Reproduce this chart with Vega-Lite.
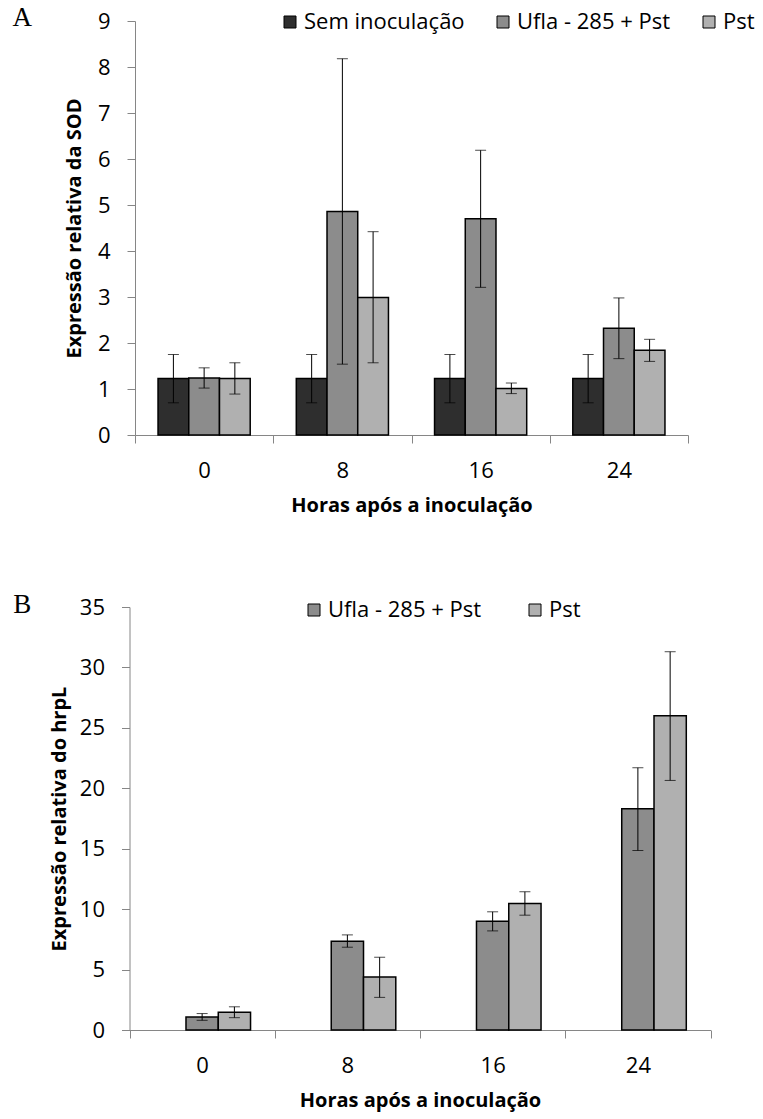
{
  "$schema": "https://vega.github.io/schema/vega-lite/v6.json",
  "padding": {"left": 12, "top": 4, "right": 5, "bottom": 5},
  "background": "white",
  "config": {
    "view": {"stroke": null},
    "font": "Open Sans",
    "axis": {
      "domainColor": "#868686", "tickColor": "#868686", "tickSize": 8, "grid": false,
      "labelFont": "Open Sans", "labelFontSize": 22, "labelColor": "black", "labelPadding": 17,
      "titleFont": "Open Sans", "titleFontSize": 20, "titleFontWeight": "bold", "titleColor": "black"
    },
    "legend": {
      "labelFont": "Open Sans", "labelFontSize": 22, "labelColor": "black", "labelLimit": 400,
      "symbolType": "square", "symbolSize": 144, "symbolStrokeColor": "black", "symbolStrokeWidth": 1, "labelOffset": 3
    },
    "title": {"font": "Liberation Serif", "fontSize": 27, "fontWeight": "normal", "color": "black"}
  },
  "datasets": {
    "sod": [
      {"hora": "0", "serie": "Sem inoculação", "valor": 1.23, "lo": 0.70, "hi": 1.75},
      {"hora": "0", "serie": "Ufla - 285 + Pst", "valor": 1.24, "lo": 1.02, "hi": 1.46},
      {"hora": "0", "serie": "Pst", "valor": 1.23, "lo": 0.89, "hi": 1.57},
      {"hora": "8", "serie": "Sem inoculação", "valor": 1.23, "lo": 0.70, "hi": 1.75},
      {"hora": "8", "serie": "Ufla - 285 + Pst", "valor": 4.86, "lo": 1.54, "hi": 8.18},
      {"hora": "8", "serie": "Pst", "valor": 2.99, "lo": 1.57, "hi": 4.42},
      {"hora": "16", "serie": "Sem inoculação", "valor": 1.23, "lo": 0.70, "hi": 1.75},
      {"hora": "16", "serie": "Ufla - 285 + Pst", "valor": 4.70, "lo": 3.21, "hi": 6.19},
      {"hora": "16", "serie": "Pst", "valor": 1.01, "lo": 0.90, "hi": 1.13},
      {"hora": "24", "serie": "Sem inoculação", "valor": 1.23, "lo": 0.70, "hi": 1.75},
      {"hora": "24", "serie": "Ufla - 285 + Pst", "valor": 2.32, "lo": 1.66, "hi": 2.98},
      {"hora": "24", "serie": "Pst", "valor": 1.84, "lo": 1.60, "hi": 2.08}
    ],
    "hrpl": [
      {"hora": "0", "serie": "Ufla - 285 + Pst", "valor": 1.08, "lo": 0.80, "hi": 1.36},
      {"hora": "0", "serie": "Pst", "valor": 1.47, "lo": 1.02, "hi": 1.92},
      {"hora": "8", "serie": "Ufla - 285 + Pst", "valor": 7.35, "lo": 6.85, "hi": 7.87},
      {"hora": "8", "serie": "Pst", "valor": 4.39, "lo": 2.70, "hi": 6.02},
      {"hora": "16", "serie": "Ufla - 285 + Pst", "valor": 9.0, "lo": 8.2, "hi": 9.78},
      {"hora": "16", "serie": "Pst", "valor": 10.47, "lo": 9.5, "hi": 11.44},
      {"hora": "24", "serie": "Ufla - 285 + Pst", "valor": 18.31, "lo": 14.85, "hi": 21.7},
      {"hora": "24", "serie": "Pst", "valor": 26.0, "lo": 20.65, "hi": 31.3}
    ]
  },
  "concat": [
    {
      "width": 553, "height": 414,
      "title": {"text": "A", "orient": "left", "anchor": "end", "frame": "group", "angle": 0, "align": "right", "baseline": "middle", "offset": 13, "dy": -3},
      "data": {"name": "sod"},
      "encoding": {
        "x": {"field": "hora", "type": "nominal", "sort": ["0", "8", "16", "24"],
              "scale": {"paddingInner": 0, "paddingOuter": 0},
              "axis": {"title": "Horas após a inoculação", "labelAngle": 0, "tickBand": "extent", "titlePadding": 14}},
        "xOffset": {"field": "serie", "type": "nominal", "sort": ["Sem inoculação", "Ufla - 285 + Pst", "Pst"],
                    "scale": {"domain": ["Sem inoculação", "Ufla - 285 + Pst", "Pst"], "paddingInner": 0, "paddingOuter": 0.75}}
      },
      "layer": [
        {
          "mark": {"type": "bar", "stroke": "black", "strokeWidth": 1.5},
          "encoding": {
            "y": {"field": "valor", "type": "quantitative", "title": "Expressão relativa da SOD",
                  "scale": {"domain": [0, 9], "nice": false},
                  "axis": {"values": [0, 1, 2, 3, 4, 5, 6, 7, 8, 9], "titlePadding": 13}},
            "fill": {"field": "serie", "type": "nominal",
                     "scale": {"domain": ["Sem inoculação", "Ufla - 285 + Pst", "Pst"], "range": ["#2e2e2e", "#8c8c8c", "#b0b0b0"]},
                     "legend": {"title": null, "orient": "none", "direction": "horizontal", "legendX": 144, "legendY": -10, "columnPadding": 27}}
          }
        },
        {
          "mark": {"type": "rule", "color": "black", "strokeWidth": 1},
          "encoding": {
            "y": {"field": "lo", "type": "quantitative", "title": "Expressão relativa da SOD"},
            "y2": {"field": "hi"}
          }
        },
        {
          "mark": {"type": "tick", "color": "black", "thickness": 1, "size": 11},
          "encoding": {"y": {"field": "hi", "type": "quantitative", "title": "Expressão relativa da SOD"}}
        },
        {
          "mark": {"type": "tick", "color": "black", "thickness": 1, "size": 11},
          "encoding": {"y": {"field": "lo", "type": "quantitative", "title": "Expressão relativa da SOD"}}
        }
      ]
    },
    {
      "width": 576, "height": 423,
      "title": {"text": "B", "orient": "left", "anchor": "end", "frame": "group", "angle": 0, "align": "right", "baseline": "middle", "offset": 0, "dy": -2},
      "data": {"name": "hrpl"},
      "encoding": {
        "x": {"field": "hora", "type": "nominal", "sort": ["0", "8", "16", "24"],
              "scale": {"paddingInner": 0, "paddingOuter": 0, "range": [-5.5, 575.5]},
              "axis": {"title": "Horas após a inoculação", "labelAngle": 0, "tickBand": "extent", "titlePadding": 14}},
        "xOffset": {"field": "serie", "type": "nominal", "sort": ["Sem inoculação", "Ufla - 285 + Pst", "Pst"],
                    "scale": {"domain": ["Sem inoculação", "Ufla - 285 + Pst", "Pst"], "paddingInner": 0, "paddingOuter": 0.75}}
      },
      "layer": [
        {
          "mark": {"type": "bar", "stroke": "black", "strokeWidth": 1.5},
          "encoding": {
            "y": {"field": "valor", "type": "quantitative", "title": "Expressão relativa do hrpL",
                  "scale": {"domain": [0, 35], "nice": false},
                  "axis": {"values": [0, 5, 10, 15, 20, 25, 30, 35], "titlePadding": 10, "offset": 5.5}},
            "fill": {"field": "serie", "type": "nominal",
                     "scale": {"domain": ["Ufla - 285 + Pst", "Pst"], "range": ["#8c8c8c", "#b0b0b0"]},
                     "legend": {"title": null, "orient": "none", "direction": "horizontal", "legendX": 168, "legendY": -8, "columnPadding": 42}}
          }
        },
        {
          "mark": {"type": "rule", "color": "black", "strokeWidth": 1},
          "encoding": {
            "y": {"field": "lo", "type": "quantitative", "title": "Expressão relativa do hrpL"},
            "y2": {"field": "hi"}
          }
        },
        {
          "mark": {"type": "tick", "color": "black", "thickness": 1, "size": 11},
          "encoding": {"y": {"field": "hi", "type": "quantitative", "title": "Expressão relativa do hrpL"}}
        },
        {
          "mark": {"type": "tick", "color": "black", "thickness": 1, "size": 11},
          "encoding": {"y": {"field": "lo", "type": "quantitative", "title": "Expressão relativa do hrpL"}}
        }
      ]
    }
  ],
  "columns": 1,
  "align": "none",
  "spacing": 76,
  "resolve": {
    "scale": {"x": "independent", "y": "independent", "xOffset": "independent", "fill": "independent"},
    "legend": {"fill": "independent"},
    "axis": {"x": "independent", "y": "independent"}
  }
}
